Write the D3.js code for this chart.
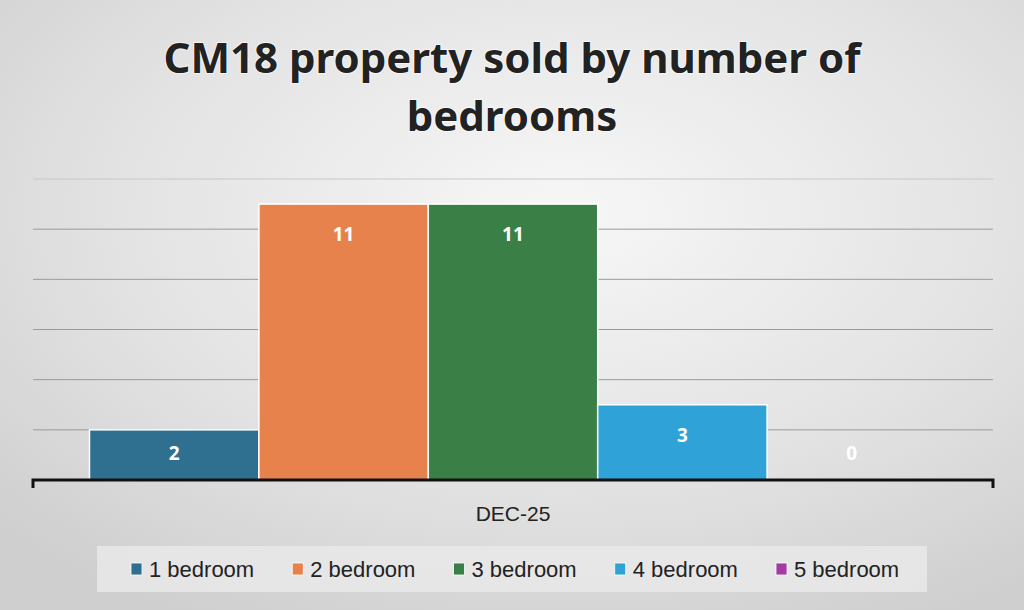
<!DOCTYPE html>
<html>
<head>
<meta charset="utf-8">
<script src="https://cdn.jsdelivr.net/npm/d3@7"></script>
<style>
  html, body { margin: 0; padding: 0; }
  body { width: 1024px; height: 610px; overflow: hidden; }
</style>
</head>
<body>
<svg id="chart" width="1024" height="610"></svg>
<script>
// chart data
var titleLines = ['CM18 property sold by number of', 'bedrooms'];
var period = 'DEC-25';
var series = ['1 bedroom', '2 bedroom', '3 bedroom', '4 bedroom', '5 bedroom'];
var values = [2, 11, 11, 3, 0];
var colors = ['#2f7091', '#e8824c', '#3a7f45', '#2fa3d8', '#a53aa4'];
var gridTicks = [0, 2, 4, 6, 8, 10, 12];

var width = 1024, height = 610;
var margin = { top: 179, right: 31, bottom: 130, left: 33 };

var svg = d3.select('#chart');
var defs = svg.append('defs');

var bg = defs.append('radialGradient').attr('id', 'bg')
  .attr('cx', '55%').attr('cy', '35%').attr('r', '75%');
bg.append('stop').attr('offset', '0%').attr('stop-color', '#f7f7f7');
bg.append('stop').attr('offset', '60%').attr('stop-color', '#e2e2e2');
bg.append('stop').attr('offset', '100%').attr('stop-color', '#cfcfcf');

svg.append('rect').attr('width', width).attr('height', height).attr('fill', 'url(#bg)');

// title
svg.append('g').selectAll('text').data(titleLines).enter().append('text')
  .attr('x', 512)
  .attr('y', function(d, i) { return 73 + i * 58; })
  .attr('text-anchor', 'middle')
  .style('font-family', '"Noto Sans", "Open Sans", sans-serif')
  .style('font-weight', 700)
  .style('font-size', '42px')
  .style('fill', '#222')
  .style('paint-order', 'stroke')
  .style('stroke', 'rgba(255,255,255,0.6)')
  .style('stroke-width', 2)
  .text(function(d) { return d; });

var plotW = width - margin.left - margin.right;
var y0 = 480;

var x = d3.scaleBand().domain([period]).range([margin.left, margin.left + plotW]).paddingOuter(0.0667).paddingInner(0);
var xs = d3.scaleBand().domain(series).range([0, x.bandwidth()]).padding(0);
var y = d3.scaleLinear().domain([0, 12]).range([y0, margin.top]);

// gridlines
svg.append('g').selectAll('line').data(gridTicks.slice(1)).enter().append('line')
  .attr('x1', margin.left).attr('x2', margin.left + plotW)
  .attr('y1', function(d) { return y(d); }).attr('y2', function(d) { return y(d); })
  .attr('stroke', function(d) { return d === 12 ? '#c8c8c8' : '#9a9a9a'; })
  .attr('stroke-width', 1);

// bars
var g = svg.append('g').attr('transform', 'translate(' + x(period) + ',0)');
g.selectAll('rect').data(values).enter().append('rect')
  .attr('x', function(d, i) { return xs(series[i]); })
  .attr('width', xs.bandwidth())
  .attr('y', function(d) { return y(d); })
  .attr('height', function(d) { return y0 - y(d); })
  .attr('fill', function(d, i) { return colors[i]; })
  .attr('stroke', '#ffffff')
  .attr('stroke-width', 1.5);

g.selectAll('text').data(values).enter().append('text')
  .attr('x', function(d, i) { return xs(series[i]) + xs.bandwidth() / 2; })
  .attr('y', function(d) { return Math.min(y(d) + 30, y0 - 27); })
  .attr('dy', '0.36em')
  .attr('text-anchor', 'middle')
  .style('font-family', '"Noto Sans", "Open Sans", sans-serif')
  .style('font-weight', 700)
  .style('font-size', '19px')
  .style('fill', '#ffffff')
  .text(function(d) { return d; });

// x axis
var axis = svg.append('g').attr('transform', 'translate(0,' + y0 + ')')
  .call(d3.axisBottom(x).tickSize(0).tickPadding(26));
axis.select('.domain').remove();
axis.append('path')
  .attr('d', 'M' + margin.left + ',8V0H' + (margin.left + plotW) + 'V8')
  .attr('fill', 'none').attr('stroke', '#111').attr('stroke-width', 3);
axis.selectAll('.tick text')
  .style('font-family', '"Liberation Sans", sans-serif')
  .style('font-size', '21px')
  .style('fill', '#222');

// legend
var legend = svg.append('g');
legend.append('rect').attr('x', 97).attr('y', 546).attr('width', 830).attr('height', 46)
  .attr('fill', '#e9e9e9').attr('opacity', 0.85);
var legendX = d3.scalePoint().domain(series).range([131, 776]);
var item = legend.selectAll('g.item').data(series).enter().append('g')
  .attr('class', 'item')
  .attr('transform', function(d) { return 'translate(' + legendX(d) + ',569)'; });
item.append('rect').attr('x', 0).attr('y', -6).attr('width', 11).attr('height', 12)
  .attr('fill', function(d, i) { return colors[i]; })
  .attr('stroke', '#fff').attr('stroke-width', 0.8);
item.append('text').attr('x', 18).attr('dy', '0.36em')
  .style('font-family', '"Liberation Sans", sans-serif')
  .style('font-size', '22px')
  .style('fill', '#222')
  .text(function(d) { return d; });
</script>
</body>
</html>
